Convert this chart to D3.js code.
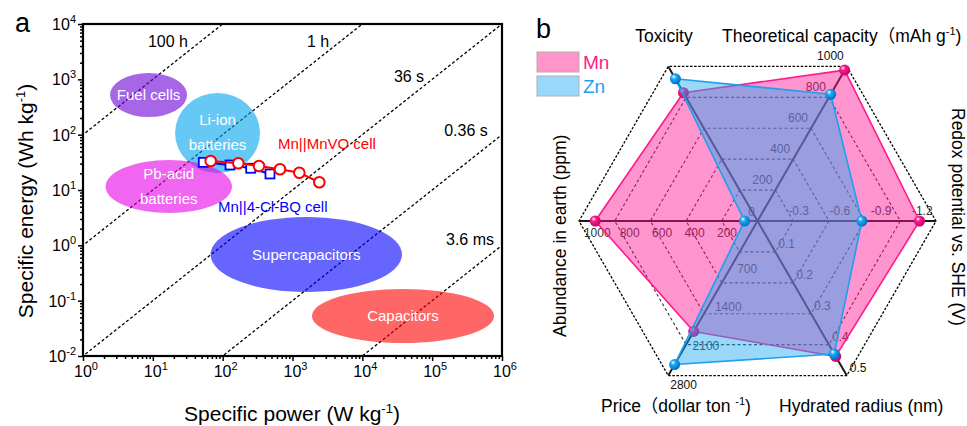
<!DOCTYPE html>
<html><head><meta charset="utf-8">
<script src="https://cdn.jsdelivr.net/npm/d3@7"></script>
<style>
body{margin:0;background:#fff}
svg{display:block}
text{font-family:Arial,"Liberation Sans","Noto Sans CJK SC",sans-serif}
</style>
</head><body>
<svg id="chart" width="967" height="426"></svg>
<script>
// ================= Panel a : Ragone plot =================
const powerTicks  = [1, 10, 100, 1e3, 1e4, 1e5, 1e6];
const energyTicks = [1e-2, 1e-1, 1, 10, 100, 1e3, 1e4];
const timeLabels  = ["100 h", "1 h", "36 s", "0.36 s", "3.6 ms"];
const timeHours   = [100, 1, 0.01, 1e-4, 1e-6];
const regionNames  = ["Fuel cells", "Li-ion|batteries", "Pb-acid|batteries", "Supercapacitors", "Capacitors"];
const regionPower  = [[2.44, 30.9], [20.8, 343], [2.1, 136], [67, 37000], [1900, 770000]];
const regionEnergy = [[208, 1301], [20.3, 566], [3.84, 34.8], [0.143, 3.25], [0.0172, 0.163]];
const mnvoPower  = [67.4, 167.5, 331, 662, 1252, 2421];
const mnvoEnergy = [33.4, 30.4, 27.2, 23.7, 20.5, 13.8];
const bqPower    = [52.8, 127.4, 252, 476];
const bqEnergy   = [31.6, 28.3, 24.7, 19.5];

// ================= Panel b : radar =================
const radarAxes   = ["Theoretical capacity", "Redox potential", "Hydrated radius", "Price", "Abundance", "Toxicity"];
const radarMax    = [1000, -1.3, 0.5, 2800, 1100, 1];
const mnValues    = [976, -1.18, 0.438, 2000, 1000, 0.83];
const znValues    = [820, -0.76, 0.430, 2600, 80, 0.92];
const capTicks    = [200, 400, 600, 800, 1000];
const redoxTicks  = [-0.3, -0.6, -0.9, -1.2];
const radiusTicks = [0.1, 0.2, 0.3, 0.4, 0.5];
const priceTicks  = [700, 1400, 2100, 2800];
const abundTicks  = [200, 400, 600, 800, 1000];
const seriesNames = ["Mn", "Zn"];

const svg = d3.select("#chart");
const defs = svg.append("defs");

// ---------- helpers ----------
function supText(g, parts, attrs) {
  const t = g.append("text");
  Object.entries(attrs).forEach(([k, v]) => t.attr(k, v));
  let pending = 0;
  parts.forEach(p => {
    const ts = t.append("tspan").text(p.t);
    if (p.sup) {
      ts.attr("dy", -p.shift + pending).attr("font-size", p.size);
      pending = p.shift;
    } else if (pending) {
      ts.attr("dy", pending);
      pending = 0;
    }
  });
  return t;
}

// ---------- Panel a ----------
const L = {left: 83, right: 502, top: 24, bottom: 356};
const x = d3.scaleLog().domain([1, 1e6]).range([L.left, L.right]);
const y = d3.scaleLog().domain([1e-2, 1e4]).range([L.bottom, L.top]);

const ga = svg.append("g");
defs.append("clipPath").attr("id", "plotclip")
  .append("rect").attr("x", L.left).attr("y", L.top)
  .attr("width", L.right - L.left).attr("height", L.bottom - L.top);

// iso-time dashed lines
const lineGen = d3.line().x(d => x(d[0])).y(d => y(d[1]));
const linesG = ga.append("g").attr("clip-path", "url(#plotclip)");
timeHours.forEach(h => {
  linesG.append("path")
    .attr("d", lineGen([[1e-3, 1e-3 * h], [1e7, 1e7 * h]]))
    .attr("fill", "none").attr("stroke", "#000")
    .attr("stroke-width", 1.3).attr("stroke-dasharray", "3,2.2");
});

// regions
const regionColors = ["#6a00d5", "#00a3ee", "#e600e6", "#0000ff", "#ff0000"];
regionNames.forEach((_, i) => {
  const x0 = x(regionPower[i][0]), x1 = x(regionPower[i][1]);
  const y0 = y(regionEnergy[i][1]), y1 = y(regionEnergy[i][0]);
  ga.append("ellipse")
    .attr("cx", (x0 + x1) / 2).attr("cy", (y0 + y1) / 2)
    .attr("rx", (x1 - x0) / 2).attr("ry", (y1 - y0) / 2)
    .attr("fill", regionColors[i]).attr("fill-opacity", 0.6);
});
regionNames.forEach((name, i) => {
  const x0 = x(regionPower[i][0]), x1 = x(regionPower[i][1]);
  const y0 = y(regionEnergy[i][1]), y1 = y(regionEnergy[i][0]);
  const cx = (x0 + x1) / 2, cy = (y0 + y1) / 2;
  const lines = name.split("|");
  const lh = 25;
  lines.forEach((s, k) => {
    ga.append("text").attr("x", cx)
      .attr("y", cy + 5 + (k - (lines.length - 1) / 2) * lh)
      .attr("text-anchor", "middle").attr("font-size", 15)
      .attr("fill", "#fff").text(s);
  });
});

// series
const bqPts = bqPower.map((p, i) => [p, bqEnergy[i]]);
const mnvoPts = mnvoPower.map((p, i) => [p, mnvoEnergy[i]]);
ga.append("path").attr("d", lineGen(bqPts)).attr("fill", "none")
  .attr("stroke", "#0000ff").attr("stroke-width", 2);
ga.selectAll(".sq").data(bqPts).enter().append("rect")
  .attr("x", d => x(d[0]) - 4.5).attr("y", d => y(d[1]) - 4.5)
  .attr("width", 9).attr("height", 9)
  .attr("fill", "#fff").attr("stroke", "#0000ff").attr("stroke-width", 1.8);
ga.append("path").attr("d", lineGen(mnvoPts)).attr("fill", "none")
  .attr("stroke", "#ff0000").attr("stroke-width", 2);
ga.selectAll(".ci").data(mnvoPts).enter().append("circle")
  .attr("cx", d => x(d[0])).attr("cy", d => y(d[1])).attr("r", 5.3)
  .attr("fill", "#fff").attr("stroke", "#ff0000").attr("stroke-width", 2);

ga.append("text").attr("x", 278).attr("y", 149).attr("font-size", 15)
  .attr("fill", "#ff0000").text("Mn||MnVO cell");
ga.append("text").attr("x", 218).attr("y", 212).attr("font-size", 15)
  .attr("fill", "#0000ff").text("Mn||4-Cl-BQ cell");

// iso-time labels
const timeLabelPos = [[168, 47], [318, 47], [409, 82], [466, 136], [470, 245]];
timeLabels.forEach((s, i) => {
  ga.append("text").attr("x", timeLabelPos[i][0]).attr("y", timeLabelPos[i][1])
    .attr("text-anchor", "middle").attr("font-size", 16).attr("fill", "#000").text(s);
});

// axes
const minorP = [], minorE = [];
for (let k = 0; k < 6; k++) for (let m = 2; m <= 9; m++) { minorP.push(m * Math.pow(10, k)); minorE.push(m * Math.pow(10, k - 2)); }
const xAxG = ga.append("g").attr("transform", `translate(0,${L.bottom})`)
  .call(d3.axisBottom(x).tickValues(powerTicks).tickSize(5).tickFormat(""));
const xAxM = ga.append("g").attr("transform", `translate(0,${L.bottom})`)
  .call(d3.axisBottom(x).tickValues(minorP).tickSize(3).tickFormat(""));
const yAxG = ga.append("g").attr("transform", `translate(${L.left},0)`)
  .call(d3.axisLeft(y).tickValues(energyTicks).tickSize(5).tickFormat(""));
const yAxM = ga.append("g").attr("transform", `translate(${L.left},0)`)
  .call(d3.axisLeft(y).tickValues(minorE).tickSize(3).tickFormat(""));
[xAxG, xAxM, yAxG, yAxM].forEach(g => {
  g.select(".domain").remove();
  g.selectAll(".tick line").attr("stroke", "#000").attr("stroke-width", 1.5);
  g.selectAll(".tick text").remove();
});
ga.append("rect").attr("x", L.left).attr("y", L.top)
  .attr("width", L.right - L.left).attr("height", L.bottom - L.top)
  .attr("fill", "none").attr("stroke", "#000").attr("stroke-width", 2.2);

powerTicks.forEach(p => {
  supText(ga, [{t: "10"}, {t: String(Math.round(Math.log10(p))), sup: true, size: 11, shift: 7}],
    {x: x(p) + 3, y: 377, "text-anchor": "middle", "font-size": 16, fill: "#000"});
});
energyTicks.forEach(e => {
  supText(ga, [{t: "10"}, {t: String(Math.round(Math.log10(e))), sup: true, size: 11, shift: 7}],
    {x: 76, y: y(e) + 6, "text-anchor": "end", "font-size": 16, fill: "#000"});
});

supText(ga, [{t: "Specific power (W kg"}, {t: "-1", sup: true, size: 13, shift: 8}, {t: ")"}],
  {x: 292, y: 421, "text-anchor": "middle", "font-size": 21, fill: "#000"});
supText(ga, [{t: "Specific energy (Wh kg"}, {t: "-1", sup: true, size: 13, shift: 8}, {t: ")"}],
  {transform: "translate(33,201) rotate(-90)", "text-anchor": "middle", "font-size": 21, fill: "#000"});
ga.append("text").attr("x", 15).attr("y", 32).attr("font-size", 27).text("a");

// ---------- Panel b ----------
const gb = svg.append("g");
const C = {x: 757.5, y: 221}, R = 178.5;
const angles = [60, 0, -60, -120, 180, 120];
const scales = radarMax.map(m => d3.scaleLinear().domain([0, m]).range([0, R]));
function ptR(i, r) {
  const a = angles[i] * Math.PI / 180;
  return [C.x + r * Math.cos(a), C.y - r * Math.sin(a)];
}
function pt(i, v) { return ptR(i, scales[i](v)); }

// grid hexagons
[0.2, 0.4, 0.6, 0.8, 1.0].forEach(f => {
  const poly = angles.map((_, i) => ptR(i, f * R));
  gb.append("path").attr("d", d3.line()(poly) + "Z")
    .attr("fill", "none").attr("stroke", f === 1 ? "#000" : "#333")
    .attr("stroke-width", f === 1 ? 1.3 : 1.1)
    .attr("stroke-dasharray", f === 1 ? "2.5,1.6" : "3,2.5");
});
// axes lines
[0, 1, 2].forEach(i => {
  const a = ptR(i, R), b = ptR(i + 3, R);
  gb.append("line").attr("x1", a[0]).attr("y1", a[1]).attr("x2", b[0]).attr("y2", b[1])
    .attr("stroke", "#1a1a1a").attr("stroke-width", 2);
});

// tick labels
const tickSets = [
  {i: 0, ticks: capTicks,    fmt: d => String(d),    anchor: "end",    dx: -3, dy: -6},
  {i: 1, ticks: redoxTicks,  fmt: d => d.toFixed(1), anchor: "middle", dx: 0,  dy: -6},
  {i: 2, ticks: radiusTicks, fmt: d => d.toFixed(1), anchor: "start",  dx: 3,  dy: -4},
  {i: 3, ticks: priceTicks,  fmt: d => String(d),    anchor: "start",  dx: 2,  dy: 13},
  {i: 4, ticks: abundTicks,  fmt: d => String(d),    anchor: "middle", dx: 2,  dy: 16}
];
tickSets.forEach(s => {
  s.ticks.forEach(t => {
    const p = pt(s.i, t);
    const outer = Math.abs(scales[s.i](t) - R) < 1;
    gb.append("text").attr("x", p[0] + s.dx).attr("y", p[1] + s.dy)
      .attr("text-anchor", s.anchor).attr("font-size", 12)
      .attr("fill", outer ? "#111" : "#333").text(s.fmt(t));
  });
});
gb.append("text").attr("x", C.x - 6).attr("y", C.y - 5).attr("text-anchor", "middle")
  .attr("font-size", 12).attr("fill", "#333").text("0");

// polygons
const seriesStyle = [
  {fill: "#ff1493", op: 0.45, stroke: "#ff1a8c", c1: "#ff1a8c", c2: "#c8006a"},
  {fill: "#1ea8f5", op: 0.45, stroke: "#1e9ff0", c1: "#1eaaf5", c2: "#0070c0"}
];
seriesStyle.forEach((st, k) => {
  const gr = defs.append("radialGradient").attr("id", "ball" + k)
    .attr("cx", "40%").attr("cy", "40%").attr("r", "60%").attr("fx", "35%").attr("fy", "30%");
  gr.append("stop").attr("offset", "0%").attr("stop-color", "#fff");
  gr.append("stop").attr("offset", "35%").attr("stop-color", st.c1);
  gr.append("stop").attr("offset", "100%").attr("stop-color", st.c2);
});
[mnValues, znValues].forEach((vals, k) => {
  const st = seriesStyle[k];
  const poly = vals.map((v, i) => pt(i, v));
  gb.append("path").attr("d", d3.line()(poly) + "Z")
    .attr("fill", st.fill).attr("fill-opacity", st.op)
    .attr("stroke", st.stroke).attr("stroke-width", 1.6).attr("stroke-linejoin", "round");
  poly.forEach(p => {
    gb.append("circle").attr("cx", p[0]).attr("cy", p[1]).attr("r", 5.5)
      .attr("fill", `url(#ball${k})`);
  });
});

// axis titles
const tf = 17.5;
gb.append("text").attr("x", 664).attr("y", 42).attr("text-anchor", "middle")
  .attr("font-size", tf).text("Toxicity");
supText(gb, [{t: "Theoretical capacity\uFF08mAh g"}, {t: "-1", sup: true, size: 11, shift: 7}, {t: ")"}],
  {x: 722, y: 42, "font-size": tf, fill: "#000"});
supText(gb, [{t: "Price\uFF08dollar ton "}, {t: "-1", sup: true, size: 11, shift: 7}, {t: ")"}],
  {x: 601, y: 412, "font-size": tf, fill: "#000"});
gb.append("text").attr("x", 779).attr("y", 412).attr("font-size", tf).text("Hydrated radius (nm)");
gb.append("text").attr("transform", "translate(566,337) rotate(-90)")
  .attr("font-size", tf).text("Abundance in earth (ppm)");
gb.append("text").attr("transform", "translate(952,108) rotate(90)")
  .attr("font-size", tf).text("Redox potential vs. SHE (V)");

// legend
const legFill = ["#ff95c8", "#99d8fa"], legText = ["#ff1a8c", "#1e9ff0"];
seriesNames.forEach((n, k) => {
  gb.append("rect").attr("x", 537).attr("y", 52 + k * 24).attr("width", 42).attr("height", 20)
    .attr("fill", legFill[k]).attr("stroke", "#b0b0b0").attr("stroke-width", 1);
  gb.append("text").attr("x", 583).attr("y", 69 + k * 24).attr("font-size", 19)
    .attr("fill", legText[k]).text(n);
});
gb.append("text").attr("x", 536).attr("y", 38).attr("font-size", 27).text("b");
</script>
</body></html>
